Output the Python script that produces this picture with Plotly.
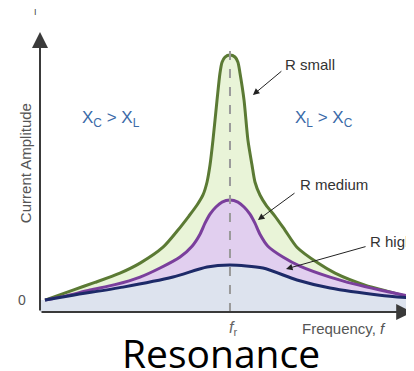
import plotly.graph_objects as go

# Frequency (f / f_r) and current amplitude (relative to R small peak)
f_small = [0.0, 0.151, 0.270, 0.405, 0.514, 0.638, 0.719, 0.778, 0.822, 0.854, 0.876, 0.892,
           0.908, 0.930, 0.946, 0.957, 0.973, 1.0, 1.027, 1.043, 1.054, 1.076, 1.097, 1.119,
           1.135, 1.162, 1.195, 1.243, 1.297, 1.362, 1.476, 1.568, 1.730, 1.865, 1.989]
i_small = [0.0, 0.041, 0.072, 0.110, 0.151, 0.216, 0.286, 0.343, 0.388, 0.429, 0.482, 0.551,
           0.653, 0.816, 0.927, 0.971, 0.992, 1.0, 0.992, 0.971, 0.927, 0.816, 0.653, 0.551,
           0.482, 0.429, 0.388, 0.343, 0.286, 0.216, 0.151, 0.110, 0.061, 0.033, 0.008]

f_medium = [0.0, 0.108, 0.243, 0.378, 0.514, 0.622, 0.730, 0.795, 0.838, 0.865, 0.892, 0.924,
            0.957, 1.0, 1.043, 1.076, 1.108, 1.135, 1.162, 1.205, 1.286, 1.378, 1.541, 1.676,
            1.811, 1.989]
i_medium = [0.0, 0.016, 0.041, 0.063, 0.094, 0.131, 0.176, 0.220, 0.269, 0.314, 0.351, 0.380,
            0.400, 0.408, 0.400, 0.380, 0.351, 0.314, 0.269, 0.220, 0.176, 0.139, 0.094, 0.065,
            0.041, 0.012]

f_high = [0.0, 0.151, 0.422, 0.692, 0.876, 1.0, 1.178, 1.362, 1.541, 1.811, 1.989]
i_high = [0.0, 0.020, 0.053, 0.094, 0.135, 0.143, 0.131, 0.082, 0.049, 0.020, 0.008]

LABEL_FONT = "Liberation Sans, Arial, sans-serif"

fig = go.Figure()

# fills drawn back to front: green, purple, navy
curves = [
    (f_small, i_small, "#5b7a34", "#e9f4d8"),
    (f_medium, i_medium, "#7a3f9c", "#e1cfef"),
    (f_high, i_high, "#1d2a68", "#dde3ee"),
]
for fx, iy, line_col, fill_col in curves:
    fig.add_trace(go.Scatter(
        x=fx, y=iy, mode="lines", line=dict(color=line_col, width=3, shape="spline", smoothing=0.7),
        fill="tozeroy", fillcolor=fill_col, showlegend=False, hoverinfo="skip"
    ))

# strip between baseline and x axis
fig.add_shape(type="rect", x0=-0.027, x1=1.99, y0=-0.049, y1=0, fillcolor="#dde3ee",
              line=dict(width=0), layer="below")

# resonance dashed line
fig.add_shape(type="line", x0=1.0, x1=1.0, y0=-0.049, y1=1.041,
              line=dict(color="#9a9a9a", width=2, dash="dash"), layer="above")

# axes with arrows
fig.add_annotation(x=-0.027, y=1.094, ax=-0.027, ay=-0.049, axref="x", ayref="y",
                   xref="x", yref="y", text="", showarrow=True, arrowhead=2,
                   arrowsize=1.6, arrowwidth=2, arrowcolor="#3a3a3a")
fig.add_annotation(x=1.985, y=-0.049, ax=-0.027, ay=-0.049, axref="x", ayref="y",
                   xref="x", yref="y", text="", showarrow=True, arrowhead=2,
                   arrowsize=1.6, arrowwidth=2, arrowcolor="#3a3a3a")

# label arrows
for x, y, ax, ay in [
    (1.124, 0.837, 1.286, 0.939),
    (1.151, 0.327, 1.357, 0.441),
    (1.303, 0.127, 1.741, 0.220),
]:
    fig.add_annotation(x=x, y=y, ax=ax, ay=ay, axref="x", ayref="y", xref="x", yref="y",
                       text="", showarrow=True, arrowhead=2, arrowsize=1.3,
                       arrowwidth=1, arrowcolor="#222222")

texts = [
    ("R small", 1.286, 0.963, "left", 15, "#333333"),
    ("R medium", 1.368, 0.473, "left", 15, "#333333"),
    ("R high", 1.746, 0.241, "left", 15, "#333333"),
    ("X<sub>C</sub> > X<sub>L</sub>", 0.355, 0.739, "center", 17, "#3a6aa8"),
    ("X<sub>L</sub> > X<sub>C</sub>", 1.510, 0.739, "center", 17, "#3a6aa8"),
    ("0", -0.124, 0.0, "center", 14, "#555555"),
    ("I", -0.049, 1.176, "center", 9, "#444444"),
    ("<i>f</i><sub>r</sub>", 1.016, -0.114, "center", 16, "#666666"),
    ("Frequency, <i>f</i>", 1.616, -0.114, "center", 15, "#555555"),
]
for text, x, y, xanchor, size, color in texts:
    fig.add_annotation(x=x, y=y, xref="x", yref="y", text=text, showarrow=False,
                       xanchor=xanchor, font=dict(family=LABEL_FONT, size=size, color=color))

fig.add_annotation(x=-0.108, y=0.559, xref="x", yref="y", text="Current Amplitude",
                   showarrow=False, textangle=-90,
                   font=dict(family=LABEL_FONT, size=15, color="#555555"))

fig.add_annotation(x=0.951, y=-0.215, xref="x", yref="y", text="Resonance", showarrow=False,
                   font=dict(family="Open Sans, sans-serif", size=39, color="#000000"))

# ranges include the page's 8px body margin so marks land where the reference has them
fig.update_layout(
    width=414, height=371,
    margin=dict(l=0, r=0, t=0, b=0),
    paper_bgcolor="white", plot_bgcolor="white",
    xaxis=dict(range=[-0.200, 2.038], visible=False, fixedrange=True),
    yaxis=dict(range=[-0.322, 1.192], visible=False, fixedrange=True),
    showlegend=False,
)

fig.write_html("out.html")
